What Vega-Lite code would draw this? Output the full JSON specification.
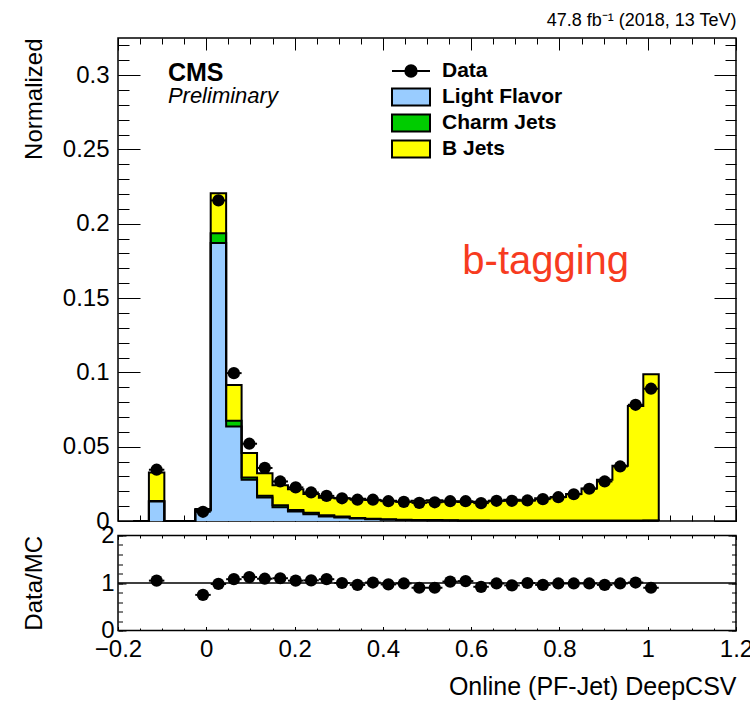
{
  "$schema": "https://vega.github.io/schema/vega-lite/v6.json",
  "background": "white",
  "padding": {"left": 21, "top": 10, "right": 5, "bottom": 5},
  "config": {
    "font": "Liberation Sans",
    "view": {"stroke": "black", "strokeWidth": 1.5},
    "axis": {"domain": false, "grid": false, "tickColor": "black", "tickWidth": 1, "labelColor": "black", "titleColor": "black", "labelFont": "Liberation Sans", "titleFont": "Liberation Sans", "labelFontSize": 24, "titleFontSize": 24, "titleFontWeight": "normal", "labelFlush": false, "labelOverlap": false, "labelBound": false},
    "legend": {"labelFont": "Liberation Sans", "labelFontSize": 21, "labelFontWeight": "bold", "labelColor": "black", "padding": 0, "rowPadding": 0, "clipHeight": 26, "labelOffset": 11}
  },
  "datasets": {
    "bins": [
      {"lo": -0.165, "hi": -0.13, "c": -0.1475, "light": 0, "charm": 0, "b": 0},
      {"lo": -0.13, "hi": -0.095, "c": -0.1125, "light": 0.0131, "charm": 0.0003, "b": 0.0192, "data": 0.0345, "ratio": 1.05},
      {"lo": -0.095, "hi": -0.06, "c": -0.0775, "light": 0, "charm": 0, "b": 0},
      {"lo": -0.06, "hi": -0.025, "c": -0.0425, "light": 0, "charm": 0, "b": 0},
      {"lo": -0.025, "hi": 0.01, "c": -0.0075, "light": 0.0071, "charm": 0.0003, "b": 0.0006, "data": 0.0062, "ratio": 0.75},
      {"lo": 0.01, "hi": 0.045, "c": 0.0275, "light": 0.187, "charm": 0.0067, "b": 0.0269, "data": 0.2157, "ratio": 0.98},
      {"lo": 0.045, "hi": 0.08, "c": 0.0625, "light": 0.0636, "charm": 0.0038, "b": 0.0241, "data": 0.0995, "ratio": 1.08},
      {"lo": 0.08, "hi": 0.115, "c": 0.0975, "light": 0.0277, "charm": 0.0015, "b": 0.0166, "data": 0.052, "ratio": 1.125},
      {"lo": 0.115, "hi": 0.15, "c": 0.1325, "light": 0.0158, "charm": 0.0012, "b": 0.0152, "data": 0.0357, "ratio": 1.09},
      {"lo": 0.15, "hi": 0.185, "c": 0.1675, "light": 0.0093, "charm": 0.0013, "b": 0.0135, "data": 0.0266, "ratio": 1.1},
      {"lo": 0.185, "hi": 0.22, "c": 0.2025, "light": 0.0064, "charm": 0.001, "b": 0.014, "data": 0.0226, "ratio": 1.05},
      {"lo": 0.22, "hi": 0.255, "c": 0.2375, "light": 0.0046, "charm": 0.0009, "b": 0.0127, "data": 0.0192, "ratio": 1.055},
      {"lo": 0.255, "hi": 0.29, "c": 0.2725, "light": 0.0031, "charm": 0.0007, "b": 0.0118, "data": 0.0169, "ratio": 1.08},
      {"lo": 0.29, "hi": 0.325, "c": 0.3075, "light": 0.0024, "charm": 0.0006, "b": 0.0123, "data": 0.0153, "ratio": 1.0},
      {"lo": 0.325, "hi": 0.36, "c": 0.3425, "light": 0.0016, "charm": 0.0005, "b": 0.0128, "data": 0.0143, "ratio": 0.96},
      {"lo": 0.36, "hi": 0.395, "c": 0.3775, "light": 0.0011, "charm": 0.0004, "b": 0.0127, "data": 0.0143, "ratio": 1.01},
      {"lo": 0.395, "hi": 0.43, "c": 0.4125, "light": 0.0008, "charm": 0.0003, "b": 0.0126, "data": 0.0133, "ratio": 0.97},
      {"lo": 0.43, "hi": 0.465, "c": 0.4475, "light": 0.0006, "charm": 0.0003, "b": 0.0121, "data": 0.0129, "ratio": 0.99},
      {"lo": 0.465, "hi": 0.5, "c": 0.4825, "light": 0.0005, "charm": 0.0002, "b": 0.0129, "data": 0.0122, "ratio": 0.9},
      {"lo": 0.5, "hi": 0.535, "c": 0.5175, "light": 0.0004, "charm": 0.0002, "b": 0.0134, "data": 0.0126, "ratio": 0.9},
      {"lo": 0.535, "hi": 0.57, "c": 0.5525, "light": 0.0003, "charm": 0.0002, "b": 0.0124, "data": 0.0133, "ratio": 1.03},
      {"lo": 0.57, "hi": 0.605, "c": 0.5875, "light": 0.0002, "charm": 0.0001, "b": 0.0125, "data": 0.0133, "ratio": 1.04},
      {"lo": 0.605, "hi": 0.64, "c": 0.6225, "light": 0.0002, "charm": 0.0001, "b": 0.0127, "data": 0.012, "ratio": 0.92},
      {"lo": 0.64, "hi": 0.675, "c": 0.6575, "light": 0.0001, "charm": 0.0001, "b": 0.0135, "data": 0.0136, "ratio": 0.99},
      {"lo": 0.675, "hi": 0.71, "c": 0.6925, "light": 0.0001, "charm": 0.0001, "b": 0.0141, "data": 0.0136, "ratio": 0.95},
      {"lo": 0.71, "hi": 0.745, "c": 0.7275, "light": 0.0001, "charm": 0.0001, "b": 0.0136, "data": 0.0138, "ratio": 1.0},
      {"lo": 0.745, "hi": 0.78, "c": 0.7625, "light": 0.0001, "charm": 0.0001, "b": 0.0151, "data": 0.0147, "ratio": 0.96},
      {"lo": 0.78, "hi": 0.815, "c": 0.7975, "light": 0.0001, "charm": 0.0001, "b": 0.016, "data": 0.016, "ratio": 0.99},
      {"lo": 0.815, "hi": 0.85, "c": 0.8325, "light": 0.0001, "charm": 0.0001, "b": 0.018, "data": 0.018, "ratio": 0.99},
      {"lo": 0.85, "hi": 0.885, "c": 0.8675, "light": 0.0001, "charm": 0.0001, "b": 0.0217, "data": 0.0217, "ratio": 0.99},
      {"lo": 0.885, "hi": 0.92, "c": 0.9025, "light": 0.0001, "charm": 0.0001, "b": 0.0275, "data": 0.0266, "ratio": 0.96},
      {"lo": 0.92, "hi": 0.955, "c": 0.9375, "light": 0.0001, "charm": 0.0001, "b": 0.0369, "data": 0.0367, "ratio": 0.99},
      {"lo": 0.955, "hi": 0.99, "c": 0.9725, "light": 0.0001, "charm": 0.0001, "b": 0.0772, "data": 0.0782, "ratio": 1.01},
      {"lo": 0.99, "hi": 1.025, "c": 1.0075, "light": 0.0002, "charm": 0.0001, "b": 0.0985, "data": 0.089, "ratio": 0.9},
      {"lo": 1.025, "hi": 1.06, "c": 1.0425, "light": 0, "charm": 0, "b": 0}
    ]
  },
  "spacing": 14.5,
  "bounds": "flush",
  "vconcat": [
    {
      "width": 618,
      "height": 483,
      "title": {"text": "47.8 fb⁻¹ (2018, 13 TeV)", "anchor": "end", "fontSize": 18, "fontWeight": "normal", "font": "Liberation Sans", "color": "black", "offset": 8},
      "resolve": {"axis": {"x": "independent", "y": "independent"}},
      "layer": [
        {
          "data": {"name": "bins"},
          "transform": [
            {"fold": ["light", "charm", "b"], "as": ["flav", "v"]}
          ],
          "mark": {"type": "area", "interpolate": "step-after", "opacity": 1},
          "encoding": {
            "x": {"field": "lo", "type": "quantitative", "scale": {"domain": [-0.2, 1.2], "nice": false, "zero": false},
                  "axis": {"orient": "bottom", "values": [-0.2, 0, 0.2, 0.4, 0.6, 0.8, 1, 1.2], "labels": false, "tickSize": -12, "title": null}},
            "y": {"field": "v", "type": "quantitative", "stack": "zero", "scale": {"domain": [0, 0.325], "nice": false},
                  "axis": {"orient": "left", "values": [0, 0.05, 0.1, 0.15, 0.2, 0.25, 0.3], "format": "~g", "tickSize": -22, "labelPadding": 31, "title": "Normalized", "titleAnchor": "end", "titlePadding": 12, "minExtent": 60, "maxExtent": 60}},
            "fill": {"field": "flav", "type": "nominal", "scale": {"domain": ["light", "charm", "b"], "range": ["#99ccff", "#00cc00", "#ffff00"]},
                     "legend": {"orient": "none", "legendX": 273, "legendY": 46, "title": null, "symbolType": "M-1,-0.45H1V0.45H-1Z", "symbolSize": 1444, "symbolStrokeColor": "black", "symbolStrokeWidth": 2, "symbolOpacity": 1,
                                "encode": {"symbols": {"update": {"stroke": {"value": "black"}, "strokeWidth": {"value": 2}, "opacity": {"value": 1}}}},
                                "labelExpr": "datum.label == 'light' ? 'Light Flavor' : datum.label == 'charm' ? 'Charm Jets' : 'B Jets'"}},
            "order": {"field": "flav", "sort": "descending"}
          }
        },
        {
          "data": {"name": "bins"},
          "transform": [
            {"fold": ["light", "charm", "b"], "as": ["flav", "v"]},
            {"window": [{"op": "sum", "field": "v", "as": "cum"}], "groupby": ["lo"], "sort": [{"field": "flav", "order": "descending"}]}
          ],
          "mark": {"type": "line", "interpolate": "step-after", "stroke": "black", "strokeWidth": 2, "strokeJoin": "miter"},
          "encoding": {
            "x": {"field": "lo", "type": "quantitative", "scale": {"domain": [-0.2, 1.2], "nice": false, "zero": false},
                  "axis": {"orient": "bottom", "values": [-0.2, -0.15, -0.1, -0.05, 0, 0.05, 0.1, 0.15, 0.2, 0.25, 0.3, 0.35, 0.4, 0.45, 0.5, 0.55, 0.6, 0.65, 0.7, 0.75, 0.8, 0.85, 0.9, 0.95, 1, 1.05, 1.1, 1.15, 1.2], "labels": false, "tickSize": -6, "title": null}},
            "y": {"field": "cum", "type": "quantitative", "scale": {"domain": [0, 0.325], "nice": false},
                  "axis": {"orient": "left", "values": [0, 0.01, 0.02, 0.03, 0.04, 0.05, 0.06, 0.07, 0.08, 0.09, 0.1, 0.11, 0.12, 0.13, 0.14, 0.15, 0.16, 0.17, 0.18, 0.19, 0.2, 0.21, 0.22, 0.23, 0.24, 0.25, 0.26, 0.27, 0.28, 0.29, 0.3, 0.31, 0.32], "labels": false, "tickSize": -11, "title": null}},
            "detail": {"field": "flav", "type": "nominal"}
          }
        },
        {
          "data": {"name": "bins"},
          "transform": [{"filter": "isValid(datum.data)"}],
          "mark": {"type": "rule", "strokeWidth": 2, "color": "black"},
          "encoding": {
            "x": {"field": "lo", "type": "quantitative", "scale": {"domain": [-0.2, 1.2], "nice": false, "zero": false},
                  "axis": {"orient": "top", "values": [-0.2, -0.15, -0.1, -0.05, 0, 0.05, 0.1, 0.15, 0.2, 0.25, 0.3, 0.35, 0.4, 0.45, 0.5, 0.55, 0.6, 0.65, 0.7, 0.75, 0.8, 0.85, 0.9, 0.95, 1, 1.05, 1.1, 1.15, 1.2], "labels": false, "tickSize": -6, "title": null}},
            "x2": {"field": "hi"},
            "y": {"field": "data", "type": "quantitative", "scale": {"domain": [0, 0.325], "nice": false},
                  "axis": {"orient": "right", "values": [0, 0.01, 0.02, 0.03, 0.04, 0.05, 0.06, 0.07, 0.08, 0.09, 0.1, 0.11, 0.12, 0.13, 0.14, 0.15, 0.16, 0.17, 0.18, 0.19, 0.2, 0.21, 0.22, 0.23, 0.24, 0.25, 0.26, 0.27, 0.28, 0.29, 0.3, 0.31, 0.32], "labels": false, "tickSize": -11, "title": null}}
          }
        },
        {
          "data": {"name": "bins"},
          "transform": [{"filter": "isValid(datum.data)"}],
          "mark": {"type": "point", "shape": "circle", "filled": true, "size": 150, "opacity": 1},
          "encoding": {
            "x": {"field": "c", "type": "quantitative", "scale": {"domain": [-0.2, 1.2], "nice": false, "zero": false},
                  "axis": {"orient": "top", "values": [-0.2, 0, 0.2, 0.4, 0.6, 0.8, 1, 1.2], "labels": false, "tickSize": -12, "title": null}},
            "y": {"field": "data", "type": "quantitative", "scale": {"domain": [0, 0.325], "nice": false},
                  "axis": {"orient": "right", "values": [0, 0.05, 0.1, 0.15, 0.2, 0.25, 0.3], "labels": false, "tickSize": -22, "title": null}},
            "color": {"datum": "Data", "type": "nominal", "scale": {"range": ["black"]},
                      "legend": {"orient": "none", "legendX": 273, "legendY": 20, "title": null, "symbolType": "M-1,0H1M0.3,0A0.3,0.3,0,1,1,-0.3,0A0.3,0.3,0,1,1,0.3,0Z", "symbolSize": 1444, "symbolStrokeColor": "black", "symbolStrokeWidth": 2, "symbolFillColor": "black", "symbolOpacity": 1,
                                 "encode": {"symbols": {"update": {"stroke": {"value": "black"}, "strokeWidth": {"value": 2}, "fill": {"value": "black"}}}}}}
          }
        },
        {
          "data": {"values": [{"t": "CMS"}]},
          "mark": {"type": "text", "align": "left", "baseline": "alphabetic", "fontSize": 25, "fontWeight": "bold", "font": "Liberation Sans", "color": "black"},
          "encoding": {
            "x": {"datum": -0.087, "type": "quantitative", "scale": {"domain": [-0.2, 1.2], "nice": false, "zero": false}, "axis": null},
            "y": {"datum": 0.2958, "type": "quantitative", "scale": {"domain": [0, 0.325], "nice": false}, "axis": null},
            "text": {"field": "t"}
          }
        },
        {
          "data": {"values": [{"t": "Preliminary"}]},
          "mark": {"type": "text", "align": "left", "baseline": "alphabetic", "fontSize": 22, "fontStyle": "italic", "font": "Liberation Sans", "color": "black"},
          "encoding": {
            "x": {"datum": -0.087, "type": "quantitative", "scale": {"domain": [-0.2, 1.2], "nice": false, "zero": false}, "axis": null},
            "y": {"datum": 0.281, "type": "quantitative", "scale": {"domain": [0, 0.325], "nice": false}, "axis": null},
            "text": {"field": "t"}
          }
        },
        {
          "data": {"values": [{"t": "b-tagging"}]},
          "mark": {"type": "text", "align": "left", "baseline": "alphabetic", "fontSize": 40, "font": "Liberation Sans", "color": "#f73b1f"},
          "encoding": {
            "x": {"datum": 0.58, "type": "quantitative", "scale": {"domain": [-0.2, 1.2], "nice": false, "zero": false}, "axis": null},
            "y": {"datum": 0.166, "type": "quantitative", "scale": {"domain": [0, 0.325], "nice": false}, "axis": null},
            "text": {"field": "t"}
          }
        }
      ]
    },
    {
      "width": 618,
      "height": 95,
      "resolve": {"axis": {"x": "independent", "y": "independent"}},
      "layer": [
        {
          "data": {"values": [{"a": -0.2, "b": 1.2, "r": 1}]},
          "mark": {"type": "rule", "color": "black", "strokeWidth": 1.2},
          "encoding": {
            "x": {"field": "a", "type": "quantitative", "scale": {"domain": [-0.2, 1.2], "nice": false, "zero": false},
                  "axis": {"orient": "top", "values": [-0.2, 0, 0.2, 0.4, 0.6, 0.8, 1, 1.2], "labels": false, "tickSize": -4, "title": null}},
            "x2": {"field": "b"},
            "y": {"field": "r", "type": "quantitative", "scale": {"domain": [0, 2], "nice": false},
                  "axis": {"orient": "right", "values": [0, 1, 2], "labels": false, "tickSize": -8, "title": null}}
          }
        },
        {
          "data": {"values": [{"a": -0.2, "b": 1.2, "r": 1}]},
          "mark": {"type": "rule", "color": "black", "strokeWidth": 1.2},
          "encoding": {
            "x": {"field": "a", "type": "quantitative", "scale": {"domain": [-0.2, 1.2], "nice": false, "zero": false},
                  "axis": {"orient": "top", "values": [-0.2, -0.15, -0.1, -0.05, 0, 0.05, 0.1, 0.15, 0.2, 0.25, 0.3, 0.35, 0.4, 0.45, 0.5, 0.55, 0.6, 0.65, 0.7, 0.75, 0.8, 0.85, 0.9, 0.95, 1, 1.05, 1.1, 1.15, 1.2], "labels": false, "tickSize": -2.5, "title": null}},
            "x2": {"field": "b"},
            "y": {"field": "r", "type": "quantitative", "scale": {"domain": [0, 2], "nice": false},
                  "axis": {"orient": "right", "values": [0, 0.2, 0.4, 0.6, 0.8, 1, 1.2, 1.4, 1.6, 1.8, 2], "labels": false, "tickSize": -4.5, "title": null}}
          }
        },
        {
          "data": {"name": "bins"},
          "transform": [{"filter": "isValid(datum.ratio)"}],
          "mark": {"type": "rule", "strokeWidth": 2, "color": "black"},
          "encoding": {
            "x": {"field": "lo", "type": "quantitative", "scale": {"domain": [-0.2, 1.2], "nice": false, "zero": false},
                  "axis": {"orient": "bottom", "values": [-0.2, -0.15, -0.1, -0.05, 0, 0.05, 0.1, 0.15, 0.2, 0.25, 0.3, 0.35, 0.4, 0.45, 0.5, 0.55, 0.6, 0.65, 0.7, 0.75, 0.8, 0.85, 0.9, 0.95, 1, 1.05, 1.1, 1.15, 1.2], "labels": false, "tickSize": -2.5, "title": null}},
            "x2": {"field": "hi"},
            "y": {"field": "ratio", "type": "quantitative", "scale": {"domain": [0, 2], "nice": false},
                  "axis": {"orient": "left", "values": [0, 0.2, 0.4, 0.6, 0.8, 1, 1.2, 1.4, 1.6, 1.8, 2], "labels": false, "tickSize": -4.5, "title": null}}
          }
        },
        {
          "data": {"name": "bins"},
          "transform": [{"filter": "isValid(datum.ratio)"}],
          "mark": {"type": "point", "shape": "circle", "filled": true, "size": 150, "opacity": 1, "color": "black"},
          "encoding": {
            "x": {"field": "c", "type": "quantitative", "scale": {"domain": [-0.2, 1.2], "nice": false, "zero": false},
                  "axis": {"orient": "bottom", "values": [-0.2, 0, 0.2, 0.4, 0.6, 0.8, 1, 1.2], "format": "~g", "tickSize": -4, "labelPadding": 11, "title": "Online (PF-Jet) DeepCSV", "titleAnchor": "end", "titleFontSize": 25, "titlePadding": 13}},
            "y": {"field": "ratio", "type": "quantitative", "scale": {"domain": [0, 2], "nice": false},
                  "axis": {"orient": "left", "values": [0, 1, 2], "format": "~g", "tickSize": -8, "labelPadding": 12, "title": "Data/MC", "titleAnchor": "end", "titlePadding": 12, "minExtent": 60, "maxExtent": 60}}
          }
        }
      ]
    }
  ]
}
